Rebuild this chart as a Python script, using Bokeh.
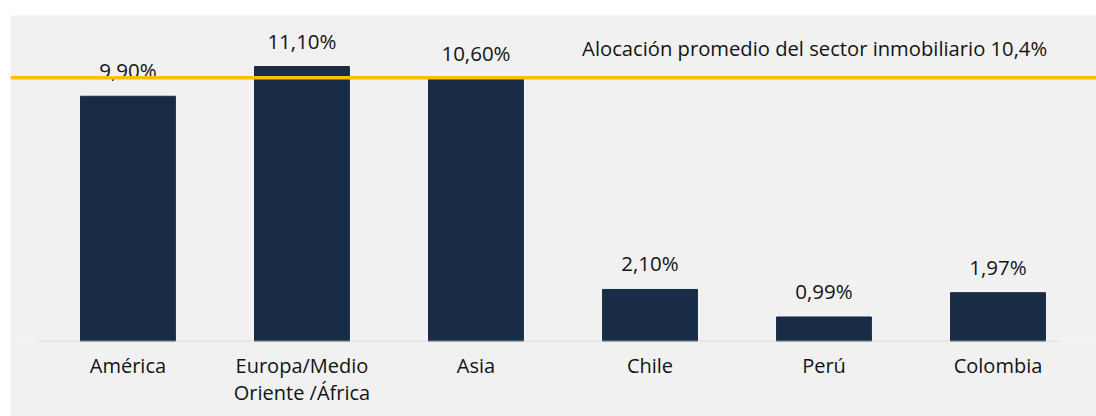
from bokeh.plotting import figure
from bokeh.models import Range1d, Span, FixedTicker, ColumnDataSource, Label
from bokeh.core.properties import value
from bokeh.embed import file_html
from bokeh.resources import INLINE

categories = ["América", "Europa/Medio\nOriente /África", "Asia", "Chile", "Perú", "Colombia"]
values = [9.90, 11.10, 10.60, 2.10, 0.99, 1.97]
value_labels = ["9,90%", "11,10%", "10,60%", "2,10%", "0,99%", "1,97%"]
avg_text = "Alocación promedio del sector inmobiliario 10,4%"
avg_line_level = 10.65  # as drawn in the picture

FONT = "Open Sans"
BG = "#f1f1f1"
BAR = "#182c45"
TXT = "#141414"

xs = list(range(len(categories)))
src = ColumnDataSource(dict(x=xs, top=values, lab=value_labels))

p = figure(width=1086, height=401, output_backend="svg", toolbar_location=None,
           x_range=Range1d(-0.675, 5.566), y_range=Range1d(0, 13.16),
           min_border_left=0, min_border_right=0, min_border_top=0, min_border_bottom=75)
p.background_fill_color = BG
p.border_fill_color = BG
p.outline_line_color = None
p.grid.visible = False
p.yaxis.visible = False

p.vbar(x="x", top="top", width=0.545, bottom=0, source=src, fill_color=BAR, line_color=BAR)

p.text(x="x", y="top", text="lab", source=src, text_align="center", text_baseline="alphabetic",
       y_offset=-26, text_font=value(FONT), text_font_size="20.5px", text_color=TXT)

# baseline
p.segment(x0=[xs[0] - 0.52], y0=[0], x1=[xs[-1] + 0.36], y1=[0], line_color="#d6d6d6", line_width=1.5)

p.add_layout(Span(location=avg_line_level, dimension="width", line_color="#ffc000", line_width=3.5))
p.add_layout(Label(x=3.946, y=11.83, text=avg_text, text_align="center", text_baseline="middle",
                   text_font=FONT, text_font_size="20.2px", text_color=TXT))

ax = p.xaxis[0]
ax.ticker = FixedTicker(ticks=xs)
ax.major_label_overrides = {i: c for i, c in enumerate(categories)}
ax.axis_line_color = None
ax.major_tick_line_color = None
ax.minor_tick_line_color = None
ax.major_tick_in = 0
ax.major_tick_out = 0
ax.major_label_standoff = 10
ax.major_label_text_font = FONT
ax.major_label_text_font_size = "20px"
ax.major_label_text_line_height = 1.0
ax.major_label_text_color = TXT

html = file_html(p, INLINE)
html = html.replace("<body>", "<body style=\"background:#ffffff; margin:0; padding:15px 0 0 10px;\">")
open("out.html", "w").write(html)
